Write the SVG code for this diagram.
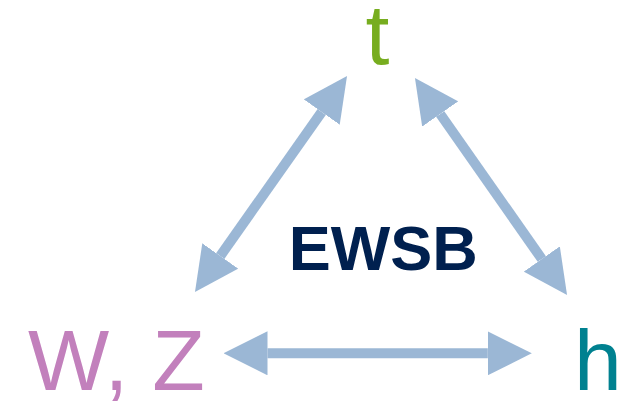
<svg xmlns="http://www.w3.org/2000/svg" width="635" height="402" viewBox="0 0 635 402">
  <style>
    .lbl { font-family: "Liberation Sans", Arial, sans-serif; font-size: 86px; }
    .title { font-family: "Liberation Sans", Arial, sans-serif; font-size: 63px; font-weight: bold; fill: #00204F; }
    .conn { stroke: #9BB7D5; stroke-width: 10; fill: none; marker-start: url(#head); marker-end: url(#head); }
  </style>
  <defs>
    <marker id="head" viewBox="0 0 44 44" refX="0" refY="22" markerWidth="44" markerHeight="44" markerUnits="userSpaceOnUse" orient="auto-start-reverse">
      <path d="M0,0 L44,22 L0,44 Z" fill="#9BB7D5"/>
    </marker>
  </defs>
  <rect width="635" height="402" fill="#FFFFFF"/>
  <g id="connectors">
    <line class="conn" x1="220.3" y1="256" x2="321.7" y2="112"/>
    <line class="conn" x1="440.2" y1="114" x2="541.8" y2="259"/>
    <line class="conn" x1="267.5" y1="353.3" x2="487.8" y2="353.3"/>
  </g>
  <g id="node-t">
    <text class="lbl" x="365.5" y="64" fill="#77AD1F">t</text>
  </g>
  <g id="node-wz">
    <text class="lbl" x="28" y="390" fill="#C280BC">W, Z</text>
  </g>
  <g id="node-h">
    <text class="lbl" x="574" y="389.5" fill="#008190">h</text>
  </g>
  <g id="node-ewsb">
    <text class="title" x="383.3" y="270" text-anchor="middle">EWSB</text>
  </g>
</svg>
